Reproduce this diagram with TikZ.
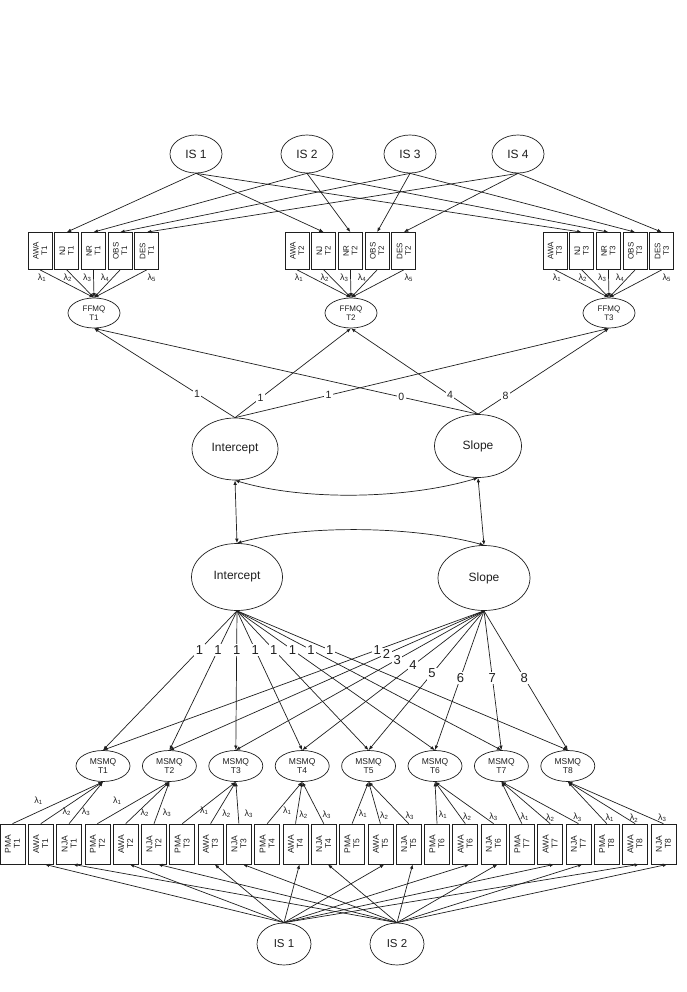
\documentclass[tikz,border=0pt]{standalone}
\usepackage{fontspec}
\setmainfont{Liberation Sans}
\usetikzlibrary{arrows.meta,shapes.geometric}

\begin{document}
\begin{tikzpicture}
	[x=1pt,y=-1pt,line width=0.7pt,color=black!88,
	 latent/.style={draw,ellipse,inner sep=0pt,align=center},
	 facet/.style={draw,rectangle,rotate=90,inner sep=0pt,align=center,
	   minimum width=37pt,minimum height=24pt,font=\fontsize{8}{8.5}\selectfont},
	 item/.style={draw,rectangle,rotate=90,inner sep=0pt,align=center,
	   minimum width=40pt,minimum height=25pt,font=\fontsize{8.5}{9}\selectfont},
	 arr/.style={-{Latex[length=4.5pt,width=3.5pt]}},
	 cov/.style={{Latex[length=4.5pt,width=3.5pt]}-{Latex[length=4.5pt,width=3.5pt]}},
	 lam/.style={inner sep=0pt,font=\fontsize{9}{9}\selectfont},
	 wup/.style={fill=white,inner sep=1.5pt,font=\fontsize{10.5}{10.5}\selectfont},
	 wlow/.style={fill=white,inner sep=1.5pt,font=\fontsize{13}{13}\selectfont}]
\useasboundingbox (0,0) rectangle (687,992);

% sessions on top
\foreach \n/\x in {1/196,2/307,3/410,4/518}
\node[latent,minimum width=52pt,minimum height=38pt,font=\fontsize{12}{12}\selectfont]
  (is\n) at (\x,154) {IS \n};

% FFMQ facets, three waves
\foreach \tm/\x in {1/40,2/297,3/555} {
  \foreach \v [count=\i from 0] in {AWA,NJ,NR,OBS,DES}
    \node[facet] (f\v\tm) at ({\x+26.7*\i},251) {\v\\T\tm};
  \node[latent,minimum width=52pt,minimum height=30pt,font=\fontsize{8}{9}\selectfont]
    (ffmq\tm) at ({\x+54},313) {FFMQ\\T\tm};
  \foreach \v/\d/\j in {AWA/2/1,NJ/1/2,NR/-6/3,OBS/-15/4,DES/5/5} {
    \draw[arr] (f\v\tm.west) -- (ffmq\tm.north);
    \node[lam] at ([xshift=\d pt,yshift=-8pt]f\v\tm.west) {λ\textsubscript{\j}};
  }
}
\foreach \s/\v in {1/NJ,2/NR,3/OBS,4/DES}
\foreach \tm in {1,2,3}
\draw[arr] (is\s.south) -- (f\v\tm.east);

% growth factors
\node[latent,minimum width=86pt,minimum height=62pt,font=\fontsize{12}{12}\selectfont]
  (icpU) at (235,449) {Intercept};
\node[latent,minimum width=87pt,minimum height=63pt,font=\fontsize{12}{12}\selectfont]
  (slpU) at (478,446) {Slope};
\node[latent,minimum width=91pt,minimum height=67pt,font=\fontsize{12}{12}\selectfont]
  (icpL) at (237,577) {Intercept};
\node[latent,minimum width=92pt,minimum height=65pt,font=\fontsize{12}{12}\selectfont]
  (slpL) at (484,578) {Slope};

\foreach \tm/\p in {1/0.27,2/0.22,3/0.25}
\draw[arr] (icpU.north) -- node[wup,pos=\p] {1} (ffmq\tm.south);
\foreach \tm/\p/\w in {1/0.2/0,2/0.22/4,3/0.21/8}
\draw[arr] (slpU.north) -- node[wup,pos=\p] {\w} (ffmq\tm.south);

% covariances
\draw[cov] (icpU.south) -- (icpL.north);
\draw[cov] (slpU.south) -- (slpL.north);
\draw[cov] (icpU.south) .. controls +(70,21) and +(-70,21) .. (slpU.south);
\draw[cov] (icpL.north) .. controls +(70,-19) and +(-70,-19) .. (slpL.north);

% MSMQ, eight waves
\foreach \k in {1,...,8} {
  \node[latent,minimum width=54pt,minimum height=31pt,font=\fontsize{8.5}{9.5}\selectfont]
    (msmq\k) at ({103+66.4*(\k-1)},766) {MSMQ\\T\k};
  \foreach \v [count=\i from 0] in {PMA,AWA,NJA} {
    \node[item] (m\v\k) at ({12.5+28.3*(3*\k-3+\i)},844) {\v\\T\k};
    \draw[arr] (m\v\k.east) -- (msmq\k.south);
  }
}
\foreach \k/\da/\db/\dc/\ya in {1/26/26/17/801,2/20/19/13/801,3/22/16/10/811,
  4/20/8/3/811,5/11/4/1/814,6/6/2/0/815,7/3/0/-1/817,8/3/-1/-1/818} {
  \node[lam] at ({12.5+28.3*(3*\k-3)+\da},\ya) {λ\textsubscript{1}};
  \node[lam] at ({12.5+28.3*(3*\k-2)+\db},{811+0.9*\k}) {λ\textsubscript{2}};
  \node[lam] at ({12.5+28.3*(3*\k-1)+\dc},{811+0.9*\k}) {λ\textsubscript{3}};
}

\foreach \k in {1,...,8}
\draw[arr] (icpL.south) -- node[wlow,pos=0.28] {1} (msmq\k.north);
\foreach \k/\p in {1/0.28,2/0.31,3/0.35,4/0.39,5/0.45,6/0.48,7/0.48,8/0.48}
\draw[arr] (slpL.south) -- node[wlow,pos=\p] {\k} (msmq\k.north);

% sessions at the bottom
\foreach \n/\x/\v in {1/284/AWA,2/397/NJA} {
  \node[latent,minimum width=54pt,minimum height=42pt,font=\fontsize{11.5}{12}\selectfont]
    (isb\n) at (\x,944) {IS \n};
  \foreach \k in {1,...,8}
    \draw[arr] (isb\n.north) -- ([xshift=4pt]m\v\k.west);
}
\end{tikzpicture}
\end{document}
